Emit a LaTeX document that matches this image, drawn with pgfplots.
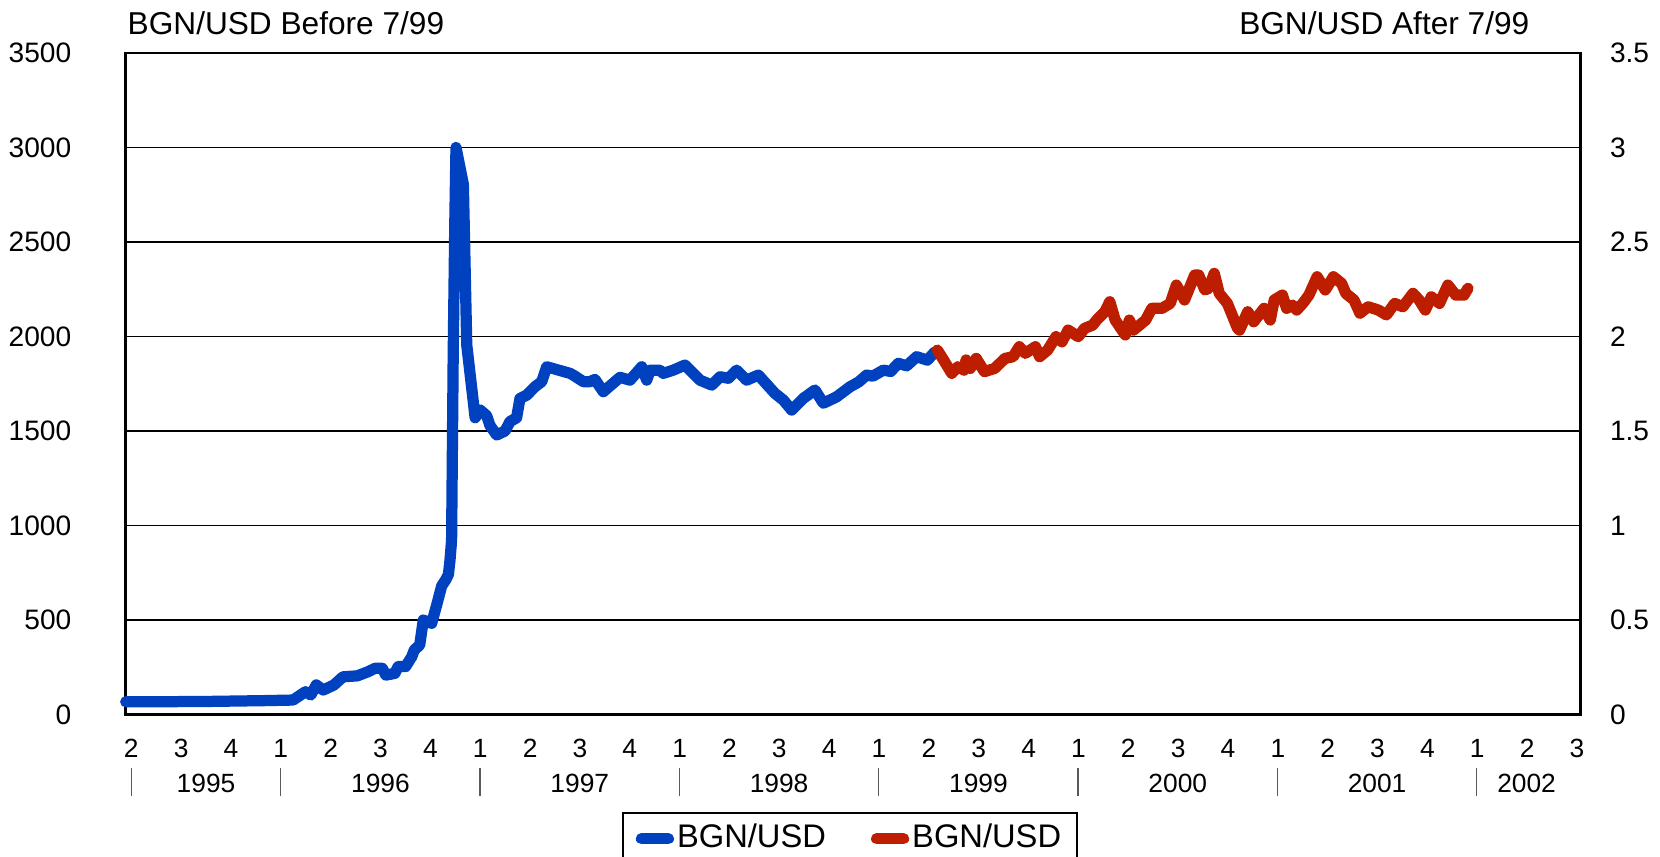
\documentclass[border=0pt]{standalone}
\usepackage{pgfplots}
\pgfplotsset{compat=1.18}
\usepackage{pgfplotstable}
\usepackage{fontspec}
\setmainfont{Liberation Sans}

\definecolor{bgnblue}{RGB}{0,65,192}
\definecolor{bgnred}{RGB}{190,30,0}

% BGN/USD, old lev (left axis)
\pgfplotstableread{
x y
1995.222 68
1995.388 68
1995.654 70
1995.919 74
1996.061 77
1996.124 121
1996.151 104
1996.178 157
1996.213 130
1996.267 157
1996.312 200
1996.384 205
1996.438 227
1996.473 245
1996.509 245
1996.527 209
1996.572 218
1996.589 254
1996.626 254
1996.657 306
1996.670 342
1996.697 368
1996.715 500
1996.757 483
1996.782 579
1996.807 680
1996.827 712
1996.841 741
1996.849 817
1996.857 923
1996.865 1900
1996.873 2600
1996.879 3000
1996.916 2805
1996.933 1955
1996.975 1570
1997.000 1611
1997.033 1581
1997.049 1530
1997.083 1479
1997.125 1500
1997.150 1550
1997.183 1570
1997.200 1672
1997.234 1690
1997.275 1734
1997.309 1761
1997.334 1840
1997.451 1805
1997.467 1796
1997.518 1761
1997.551 1761
1997.576 1773
1997.618 1708
1997.702 1784
1997.752 1769
1997.811 1840
1997.836 1769
1997.853 1822
1997.902 1822
1997.919 1805
1997.969 1822
1998.028 1849
1998.103 1769
1998.162 1743
1998.204 1787
1998.246 1779
1998.287 1822
1998.337 1769
1998.396 1796
1998.479 1699
1998.521 1664
1998.563 1611
1998.622 1673
1998.680 1717
1998.722 1647
1998.789 1681
1998.856 1734
1998.900 1760
1998.939 1796
1998.970 1790
1999.023 1822
1999.060 1815
1999.098 1858
1999.140 1845
1999.190 1893
1999.244 1875
1999.282 1919
}\before

% BGN/USD, new lev (right axis)
\pgfplotstableread{
x y
1999.294 1.928
1999.325 1.876
1999.366 1.805
1999.397 1.840
1999.428 1.822
1999.438 1.876
1999.459 1.831
1999.489 1.884
1999.530 1.814
1999.581 1.831
1999.633 1.884
1999.674 1.893
1999.705 1.946
1999.735 1.911
1999.786 1.946
1999.807 1.893
1999.847 1.928
1999.889 1.999
1999.919 1.972
1999.950 2.034
2000.001 1.999
2000.032 2.043
2000.073 2.060
2000.093 2.087
2000.134 2.131
2000.159 2.184
2000.186 2.087
2000.237 2.008
2000.257 2.087
2000.278 2.034
2000.339 2.087
2000.370 2.149
2000.421 2.149
2000.462 2.175
2000.493 2.272
2000.534 2.193
2000.585 2.325
2000.605 2.325
2000.636 2.246
2000.656 2.255
2000.683 2.334
2000.708 2.228
2000.749 2.175
2000.800 2.043
2000.810 2.034
2000.851 2.131
2000.881 2.078
2000.933 2.149
2000.964 2.087
2000.984 2.193
2001.025 2.219
2001.046 2.149
2001.076 2.166
2001.097 2.140
2001.127 2.175
2001.158 2.219
2001.199 2.316
2001.240 2.246
2001.281 2.316
2001.322 2.281
2001.343 2.228
2001.384 2.193
2001.414 2.123
2001.455 2.157
2001.506 2.140
2001.547 2.114
2001.588 2.175
2001.629 2.157
2001.680 2.228
2001.711 2.193
2001.742 2.140
2001.772 2.210
2001.813 2.175
2001.855 2.272
2001.895 2.219
2001.936 2.219
2001.956 2.255
}\after

\pgfplotsset{
  bgnbase/.style={
    width=145.49mm, height=66.17mm, scale only axis,
    at={(12.57mm,14.14mm)}, anchor=south west,
    xmin=1995.222, xmax=2002.521,
    major tick length=0pt,
    /pgf/number format/assume math mode=true,
    /pgf/number format/1000 sep={},
    scaled ticks=false,
  },
}

\begin{document}
\begin{tikzpicture}
\useasboundingbox (0,0) rectangle (166mm,85.6mm);
\clip (0,0) rectangle (166mm,85.6mm);

\begin{axis}[bgnbase,
  ymin=0, ymax=3500,
  ytick={0,500,...,3500},
  ymajorgrids, grid style={black, line width=0.4pt},
  axis line style={black, line width=0.8pt},
  yticklabel style={font=\fontsize{8}{9.6}\selectfont, anchor=east, xshift=-4.2mm},
  xtick={1995.25,1995.5,...,2002.5},
  xticklabels={2,3,4,1,2,3,4,1,2,3,4,1,2,3,4,1,2,3,4,1,2,3,4,1,2,3,4,1,2,3},
  xticklabel style={font=\fontsize{7.5}{9}\selectfont, anchor=center, yshift=-3.4mm},
  clip=false,
]
\addplot[bgnblue, line width=3.2pt, line join=round, line cap=round] table {\before};

\foreach \yr/\pos in {1995/1995.625,1996/1996.5,1997/1997.5,1998/1998.5,1999/1999.5,2000/2000.5,2001/2001.5,2002/2002.25} {
  \edef\tmp{\noexpand\node[font=\noexpand\fontsize{7.5}{9}\noexpand\selectfont, anchor=center]
    at ([yshift=-6.9mm]axis cs:\pos,0) {\yr};}
  \tmp
}
\foreach \sep in {1995.25,1996,1997,1998,1999,2000,2001,2002} {
  \edef\tmp{\noexpand\draw[gray!70!black, line width=0.4pt]
    ([yshift=-5.3mm]axis cs:\sep,0) -- ([yshift=-8.1mm]axis cs:\sep,0);}
  \tmp
}
\end{axis}

\begin{axis}[bgnbase,
  ymin=0, ymax=3.5,
  ytick={0,0.5,...,3.5},
  axis y line*=right, axis x line=none,
  axis line style={black, line width=0.8pt},
  yticklabel style={font=\fontsize{8}{9.6}\selectfont, anchor=west, xshift=1.7mm},
  legend columns=2,
  legend style={at={(axis description cs:0.4978,-0.1475)}, anchor=north,
    draw=black, line width=0.6pt, font=\fontsize{9.3}{11}\selectfont,
    inner xsep=1.3mm, inner ysep=0.4mm,
    nodes={inner xsep=0.3mm},
    /tikz/every even column/.append style={column sep=4.2mm}},
  legend image code/.code={\draw[#1, line cap=round] (0.6mm,0mm) -- (3.3mm,0mm);},
]
\addlegendimage{bgnblue, line width=3.2pt}
\addlegendentry{BGN/USD}
\addplot[bgnred, line width=3.2pt, line join=round, line cap=round] table {\after};
\addlegendentry{BGN/USD}
\end{axis}

\node[anchor=west, inner sep=0pt, font=\fontsize{9}{10.8}\selectfont] at (12.7mm,83.27mm) {BGN/USD Before 7/99};
\node[anchor=east, inner sep=0pt, font=\fontsize{9}{10.8}\selectfont] at (153.0mm,83.27mm) {BGN/USD After 7/99};
\end{tikzpicture}
\end{document}
